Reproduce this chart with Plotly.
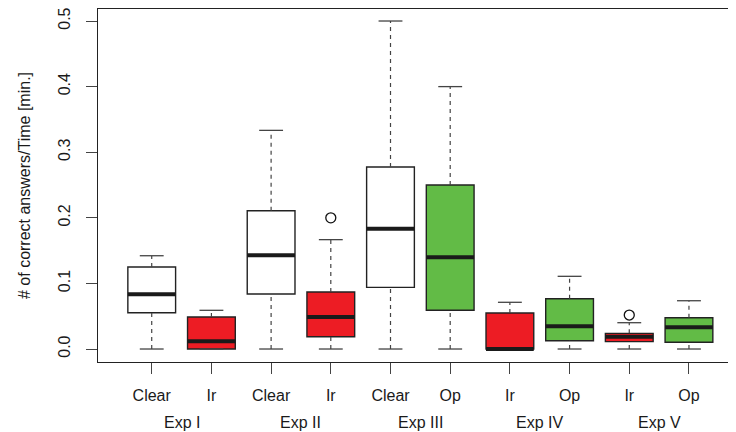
import plotly.graph_objects as go

# ---- data ----
conditions = ["Clear", "Ir", "Clear", "Ir", "Clear", "Op", "Ir", "Op", "Ir", "Op"]
experiments = ["Exp I", "Exp II", "Exp III", "Exp IV", "Exp V"]
lower = [0.0, 0.0, 0.0, 0.0, 0.0, 0.0, 0.0, 0.0, 0.0, 0.0]
q1 = [0.0553, 0.0, 0.0838, 0.0188, 0.094, 0.059, 0.0, 0.0127, 0.0112, 0.0102]
median = [0.0834, 0.0117, 0.1428, 0.0488, 0.1834, 0.1398, 0.0, 0.0346, 0.0188, 0.0331]
q3 = [0.125, 0.0488, 0.2108, 0.0869, 0.2774, 0.25, 0.0549, 0.0767, 0.0239, 0.0477]
upper = [0.1422, 0.059, 0.3333, 0.1667, 0.5, 0.4, 0.0712, 0.1108, 0.0401, 0.0736]
outlier_pos = [4, 9]
outlier_val = [0.2, 0.0518]
y_ticks = [0.0, 0.1, 0.2, 0.3, 0.4, 0.5]
y_tick_labels = ["0.0", "0.1", "0.2", "0.3", "0.4", "0.5"]

fill_map = {"Clear": "#FFFFFF", "Ir": "#ED1C24", "Op": "#62BB46"}

positions = list(range(1, len(conditions) + 1))
BOX_HALF = 0.4
CAP_HALF = 0.2
FONT = "Liberation Sans, Arial, sans-serif"
FS = 16

fig = go.Figure()

# whiskers (dashed)
wx, wy = [], []
for p, lo, a, b, hi in zip(positions, lower, q1, q3, upper):
    wx += [p, p, None, p, p, None]
    wy += [b, hi, None, lo, a, None]
fig.add_trace(go.Scatter(x=wx, y=wy, mode="lines",
                         line=dict(color="#444444", width=1.2, dash="4px,4px"),
                         hoverinfo="skip", showlegend=False))
# caps
cx, cy = [], []
for p, lo, hi in zip(positions, lower, upper):
    cx += [p - CAP_HALF, p + CAP_HALF, None, p - CAP_HALF, p + CAP_HALF, None]
    cy += [hi, hi, None, lo, lo, None]
fig.add_trace(go.Scatter(x=cx, y=cy, mode="lines",
                         line=dict(color="#444444", width=1.3),
                         hoverinfo="skip", showlegend=False))

# boxes
for p, c, a, m, b in zip(positions, conditions, q1, median, q3):
    fig.add_trace(go.Box(
        x=[p], q1=[a], median=[m], q3=[b], lowerfence=[a], upperfence=[b],
        width=2 * BOX_HALF, fillcolor=fill_map[c],
        line=dict(color="#222222", width=1.4),
        boxpoints=False, showlegend=False, hoverinfo="skip",
        whiskerwidth=0,
    ))

# thick medians
mx, my = [], []
for p, m in zip(positions, median):
    mx += [p - BOX_HALF, p + BOX_HALF, None]
    my += [m, m, None]
fig.add_trace(go.Scatter(x=mx, y=my, mode="lines",
                         line=dict(color="#1a1a1a", width=4),
                         hoverinfo="skip", showlegend=False))

# outliers
fig.add_trace(go.Scatter(x=outlier_pos, y=outlier_val, mode="markers",
                         marker=dict(symbol="circle-open", size=10,
                                     color="#111111", line=dict(width=1.3)),
                         hoverinfo="skip", showlegend=False))

# experiment group labels
for i, e in enumerate(experiments):
    fig.add_annotation(x=positions[2 * i] + 0.5, y=0, xref="x", yref="paper",
                       text=e, showarrow=False, yanchor="middle",
                       yshift=-60, font=dict(family=FONT, size=FS, color="#1a1a1a"))

# page has an 8px body margin, so the figure is 8px smaller than the window
fig.update_layout(
    width=728, height=424,
    margin=dict(l=90, r=0, t=1, b=70, autoexpand=False),
    paper_bgcolor="white", plot_bgcolor="white",
    font=dict(family=FONT, size=FS, color="#1a1a1a"),
    boxmode="overlay",
    xaxis=dict(range=[0.1, 10.788], tickmode="array", tickvals=positions,
               ticktext=conditions, showgrid=False, zeroline=False,
               automargin=False, ticklabeloverflow="allow",
               showline=True, mirror=True, linecolor="#222222", linewidth=1.3,
               ticks="outside", ticklen=11, tickcolor="#444444", tickwidth=1.3,
               ticklabelstandoff=8,
               tickfont=dict(family=FONT, size=FS, color="#1a1a1a")),
    yaxis=dict(range=[-0.0198, 0.5183], tickmode="array", tickvals=y_ticks,
               ticktext=y_tick_labels, tickangle=-90, showgrid=False,
               automargin=False, ticklabeloverflow="allow",
               zeroline=False, showline=True, mirror=False,
               linecolor="#222222", linewidth=1.3,
               ticks="outside", ticklen=11, tickcolor="#444444", tickwidth=1.3,
               ticklabelstandoff=9,
               tickfont=dict(family=FONT, size=FS, color="#1a1a1a")),
)
fig.update_yaxes(title=dict(text="# of correct answers/Time [min.]", standoff=21,
                            font=dict(family=FONT, size=FS, color="#1a1a1a")))

fig.write_html("out.html")
